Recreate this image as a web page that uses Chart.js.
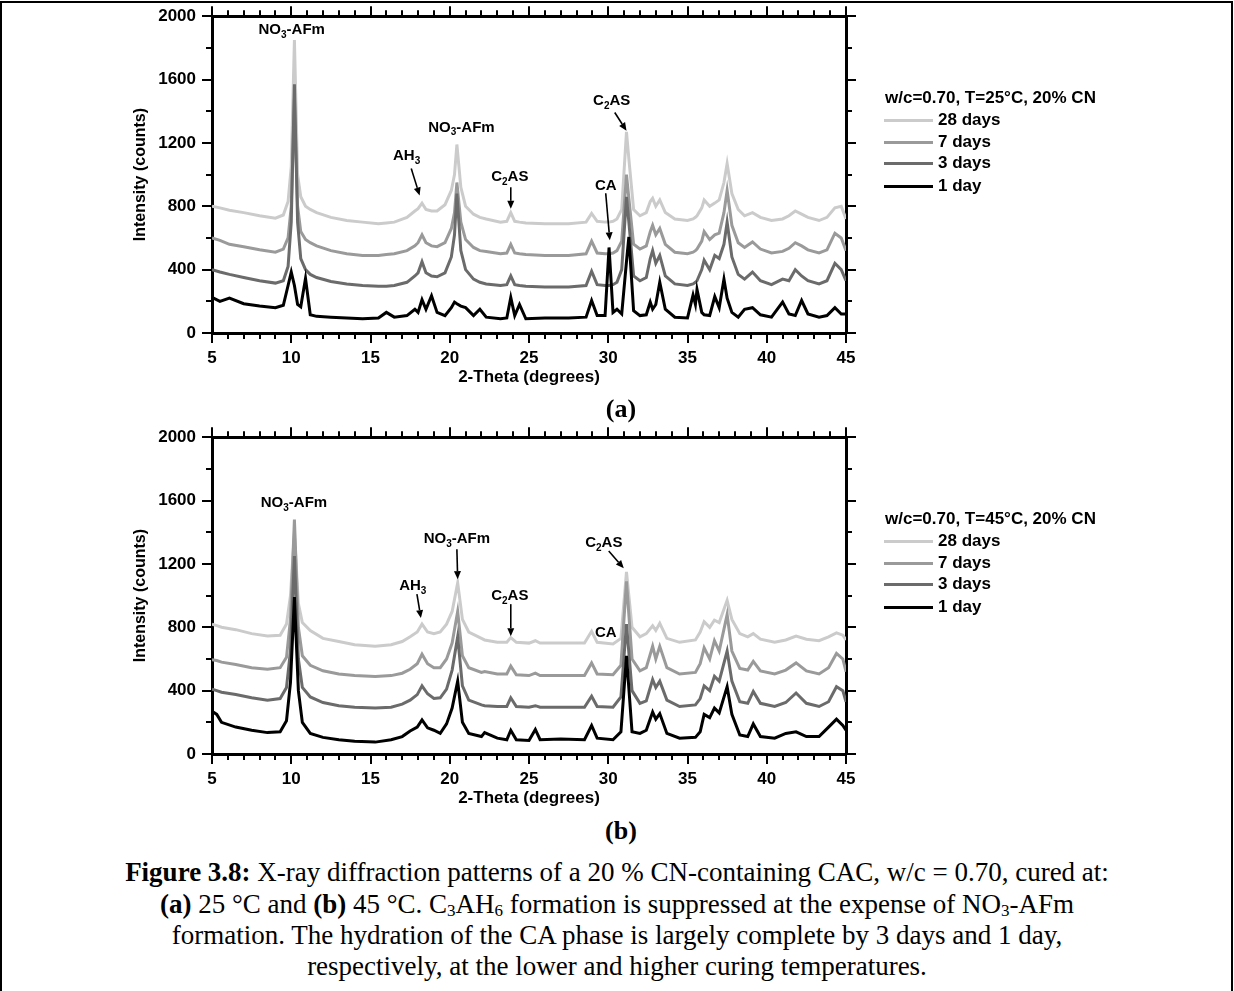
<!DOCTYPE html>
<html>
<head>
<meta charset="utf-8">
<script src="https://cdn.jsdelivr.net/npm/chart.js@4.4.0/dist/chart.umd.min.js"></script>
<style>
  body { margin: 0; background: #fff; }
  #page { position: relative; width: 1234px; height: 991px; overflow: hidden; font-family: "Liberation Sans", Arial, sans-serif; }
  #frame { position: absolute; left: 0; top: 1px; width: 1229px; height: 1100px; border: 2px solid #000; }
  canvas { position: absolute; left: 0; }
  .leg { position: absolute; font-weight: bold; font-size: 17px; line-height: 20px; white-space: nowrap; }
  .swatch { position: absolute; left: 884px; width: 49px; height: 3px; }
  .panel { position: absolute; width: 80px; text-align: center; font-family: "Liberation Serif", "Times New Roman", serif; font-weight: bold; font-size: 26px; line-height: 28px; }
  .cap { position: absolute; left: 0; width: 1234px; text-align: center; font-family: "Liberation Serif", "Times New Roman", serif; font-size: 27px; line-height: 30px; white-space: nowrap; }
  .cap sub { font-size: 17px; vertical-align: -3px; line-height: 0; }
</style>
</head>
<body>
<div id="page">
  <div id="frame"></div>
  <canvas id="chartA" width="1234" height="390" style="top:0px"></canvas>
  <canvas id="chartB" width="1234" height="390" style="top:421px"></canvas>
  <div id="legA"></div>
  <div id="legB"></div>
  <div class="panel" style="left:581px; top:395px">(a)</div>
  <div class="panel" style="left:581px; top:817px">(b)</div>
  <div class="cap" style="top:857px"><b>Figure 3.8:</b> X-ray diffraction patterns of a 20 % CN-containing CAC, w/c = 0.70, cured at:</div>
  <div class="cap" style="top:889px"><b>(a)</b> 25 °C and <b>(b)</b> 45 °C. C<sub>3</sub>AH<sub>6</sub> formation is suppressed at the expense of NO<sub>3</sub>-AFm</div>
  <div class="cap" style="top:920px">formation. The hydration of the CA phase is largely complete by 3 days and 1 day,</div>
  <div class="cap" style="top:951px">respectively, at the lower and higher curing temperatures.</div>
</div>
<script>
// series names and colours (legend order)
const seriesNames = ['28 days', '7 days', '3 days', '1 day'];
const seriesColors = ['#cbcbcb', '#9a9a9a', '#6b6b6b', '#000000'];

// (a) T = 25 °C
const thetaA = [5, 5.5, 6.1, 7, 8, 9, 9.5, 9.8, 10.0, 10.2,
  10.4, 10.6, 10.9, 11.2, 11.6, 12.5, 13.5, 14.5, 15.5, 16.0,
  16.5, 17.3, 17.8, 18.0, 18.25, 18.5, 18.85, 19.2, 19.7, 20.1,
  20.3, 20.45, 20.7, 21.0, 21.5, 21.9, 22.3, 23.2, 23.6, 23.85,
  24.1, 24.4, 24.8, 26, 27.5, 28.6, 28.95, 29.3, 29.8, 30.05,
  30.3, 30.55, 30.85, 31.15, 31.3, 31.6, 32.0, 32.4, 32.65, 32.8,
  33.0, 33.25, 33.6, 34.2, 35.0, 35.35, 35.5, 35.6, 35.9, 36.05,
  36.4, 36.72, 37.0, 37.3, 37.5, 37.8, 38.2, 38.6, 39.1, 39.6,
  40.3, 41.0, 41.4, 41.8, 42.2, 42.6, 43.3, 43.8, 44.3, 44.7,
  45];
const a28 = [800, 790, 775, 760, 740, 725, 745, 830, 1050, 1850,
  1000, 860, 800, 780, 760, 730, 710, 700, 690, 695,
  700, 730, 770, 785, 820, 780, 770, 770, 810, 900,
  1000, 1190, 920, 800, 750, 730, 720, 700, 705, 760,
  705, 700, 695, 690, 690, 700, 755, 705, 700, 700,
  705, 720, 780, 1270, 1100, 780, 740, 760, 830, 850,
  800, 840, 760, 720, 710, 720, 730, 740, 790, 840,
  800, 820, 840, 950, 1070, 880, 780, 740, 760, 730,
  710, 720, 740, 770, 750, 730, 710, 730, 790, 800,
  720];
const a7 = [600, 585, 560, 545, 525, 510, 530, 600, 800, 1480,
  800, 640, 590, 570, 550, 520, 500, 490, 490, 495,
  500, 520, 550, 570, 620, 570, 550, 545, 570, 660,
  760, 950, 700, 590, 540, 520, 515, 500, 505, 560,
  505, 500, 495, 490, 490, 500, 580, 505, 500, 500,
  505, 520, 580, 1000, 850, 560, 530, 550, 640, 680,
  620, 660, 560, 510, 500, 510, 520, 530, 580, 640,
  590, 620, 630, 760, 900, 680, 570, 540, 575, 530,
  505, 515, 535, 570, 550, 525, 505, 525, 630, 600,
  520];
const a3 = [400, 385, 370, 350, 330, 315, 330, 420, 700, 1570,
  700, 470, 400, 370, 350, 325, 310, 300, 295, 295,
  300, 320, 360, 380, 450, 380, 360, 355, 380, 480,
  620, 880, 520, 400, 340, 320, 310, 300, 305, 360,
  305, 300, 295, 290, 290, 300, 390, 305, 300, 300,
  305, 320, 400, 860, 700, 360, 330, 350, 470, 520,
  440, 490, 360, 310, 300, 310, 320, 330, 400, 460,
  400, 490, 470, 560, 700, 480, 370, 340, 385, 330,
  305, 340, 330, 400, 360, 330, 310, 330, 440, 400,
  330];
const a1 = [225, 200, 220, 185, 170, 160, 175, 300, 385, 300,
  180, 165, 345, 115, 105, 100, 95, 90, 95, 130,
  100, 110, 150, 130, 210, 150, 235, 130, 110, 160,
  195, 185, 170, 160, 110, 150, 100, 90, 95, 225,
  110, 180, 90, 95, 95, 100, 205, 110, 110, 540,
  130, 150, 120, 450, 606, 140, 110, 115, 195, 150,
  180, 320, 150, 100, 95, 240, 180, 275, 130, 115,
  110, 230, 160, 340, 220, 130, 100, 150, 160, 115,
  100, 195, 120, 110, 205, 120, 100, 110, 160, 120,
  120];

// (b) T = 45 °C
const thetaB = [5, 5.3, 5.6, 6.5, 7.5, 8.5, 9.3, 9.7, 9.95, 10.2,
  10.45, 10.7, 11.2, 12, 13, 14, 15.3, 16.3, 17.0, 17.5,
  17.95, 18.25, 18.6, 19.0, 19.4, 19.8, 20.15, 20.5, 20.8, 21.2,
  22.0, 22.2, 23.0, 23.6, 23.85, 24.2, 25.0, 25.4, 25.7, 27.0,
  28.5, 28.95, 29.3, 30.3, 30.8, 31.15, 31.5, 32.0, 32.4, 32.8,
  33.0, 33.25, 33.7, 34.5, 35.5, 35.8, 36.05, 36.4, 36.7, 37.0,
  37.5, 37.8, 38.3, 38.8, 39.15, 39.6, 40.5, 41.2, 41.85, 42.5,
  43.3, 43.9, 44.4, 44.8, 45];
const b28 = [820, 810, 800, 785, 760, 745, 750, 820, 1000, 1400,
  950, 830, 780, 730, 710, 690, 680, 690, 710, 740,
  770, 820, 770, 760, 770, 820, 900, 1080, 850, 770,
  730, 720, 705, 705, 735, 705, 700, 715, 700, 700,
  700, 775, 705, 695, 730, 1150, 800, 740, 760, 810,
  780, 825, 730, 705, 720, 770, 835, 800, 845, 830,
  970, 850, 760, 740, 760, 725, 705, 720, 745, 725,
  715, 740, 765, 750, 720];
const b7 = [595, 590, 580, 565, 545, 535, 545, 610, 850, 1480,
  800, 620, 560, 525, 505, 495, 490, 495, 510, 535,
  570, 630, 570, 545, 545, 600, 700, 900, 620, 545,
  515, 520, 505, 505, 555, 500, 495, 510, 495, 495,
  495, 575, 505, 500, 560, 1090, 600, 525, 545, 680,
  600, 680, 545, 505, 515, 570, 670, 600, 715, 650,
  880, 650, 540, 530, 585, 525, 505, 530, 575, 525,
  505, 545, 635, 600, 520];
const b3 = [410, 400, 390, 375, 355, 340, 350, 420, 650, 1250,
  600, 420, 360, 325, 305, 295, 290, 295, 315, 340,
  375, 430, 380, 350, 355, 410, 530, 740, 430, 340,
  310, 305, 300, 300, 355, 300, 295, 305, 295, 295,
  295, 365, 300, 295, 360, 820, 400, 320, 335, 470,
  420, 460, 340, 300, 310, 350, 430, 400, 490, 460,
  650, 460, 330, 320, 395, 320, 300, 325, 385, 320,
  300, 330, 425, 400, 330];
const b1 = [270, 250, 200, 170, 150, 135, 140, 210, 450, 990,
  400, 200, 130, 105, 90, 80, 75, 90, 110, 145,
  170, 215, 165, 150, 130, 190, 290, 460, 200, 130,
  110, 135, 100, 90, 150, 90, 85, 155, 90, 95,
  90, 180, 100, 90, 140, 620, 140, 130, 150, 265,
  220, 255, 130, 100, 105, 140, 250, 230, 290, 260,
  425, 250, 120, 110, 190, 110, 100, 130, 140, 110,
  110, 170, 220, 180, 150];

// axis ticks
const xMajor = [5, 10, 15, 20, 25, 30, 35, 40, 45];
const yMajor = [0, 400, 800, 1200, 1600, 2000];
const xMinor = [6, 7, 8, 9, 11, 12, 13, 14, 16, 17, 18, 19, 21, 22, 23, 24, 26, 27, 28, 29,
  31, 32, 33, 34, 36, 37, 38, 39, 41, 42, 43, 44];
const yMinor = [200, 600, 1000, 1400, 1800];

// peak labels: text ({} = subscript), label position, optional arrow [x1, y1, x2, y2] in data units
const notesA = [
  { text: 'NO{3}-AFm', x: 10.03, y: 1912 },
  { text: 'AH{3}', x: 17.28, y: 1119, arrow: [17.57, 1038, 18.1, 868] },
  { text: 'NO{3}-AFm', x: 20.74, y: 1297 },
  { text: 'C{2}AS', x: 23.79, y: 983, arrow: [23.85, 920, 23.85, 784] },
  { text: 'CA', x: 29.84, y: 931, arrow: [29.84, 882, 30.1, 585] },
  { text: 'C{2}AS', x: 30.22, y: 1465, arrow: [30.41, 1392, 31.15, 1277] }
];
const notesB = [
  { text: 'NO{3}-AFm', x: 10.17, y: 1585 },
  { text: 'AH{3}', x: 17.67, y: 1060, arrow: [17.93, 1009, 18.18, 858] },
  { text: 'NO{3}-AFm', x: 20.45, y: 1356, arrow: [20.45, 1293, 20.5, 1104] },
  { text: 'C{2}AS', x: 23.79, y: 997, arrow: [23.85, 946, 23.85, 744] },
  { text: 'CA', x: 29.84, y: 763 },
  { text: 'C{2}AS', x: 29.72, y: 1331, arrow: [30.03, 1281, 30.98, 1173] }
];

const FONT = '"Liberation Sans", Arial, sans-serif';
Chart.defaults.font.family = FONT;
Chart.defaults.font.weight = 'bold';
Chart.defaults.color = '#000';

function drawChem(ctx, text, cx, cy) {
  const parts = text.split(/[{}]/);
  const fonts = ['bold 15px ' + FONT, 'bold 10px ' + FONT];
  let w = 0;
  parts.forEach((p, i) => { ctx.font = fonts[i % 2]; w += ctx.measureText(p).width; });
  let px = cx - w / 2;
  ctx.textAlign = 'left';
  ctx.textBaseline = 'middle';
  ctx.fillStyle = '#000';
  parts.forEach((p, i) => {
    ctx.font = fonts[i % 2];
    ctx.fillText(p, px, cy + (i % 2 ? 5 : 0));
    px += ctx.measureText(p).width;
  });
}

function drawArrow(ctx, x1, y1, x2, y2) {
  const ang = Math.atan2(y2 - y1, x2 - x1);
  const head = 8;
  ctx.strokeStyle = '#000';
  ctx.fillStyle = '#000';
  ctx.lineWidth = 1.6;
  ctx.beginPath();
  ctx.moveTo(x1, y1);
  ctx.lineTo(x2 - head * Math.cos(ang), y2 - head * Math.sin(ang));
  ctx.stroke();
  ctx.beginPath();
  ctx.moveTo(x2, y2);
  ctx.lineTo(x2 - head * Math.cos(ang) + 3.5 * Math.sin(ang), y2 - head * Math.sin(ang) - 3.5 * Math.cos(ang));
  ctx.lineTo(x2 - head * Math.cos(ang) - 3.5 * Math.sin(ang), y2 - head * Math.sin(ang) + 3.5 * Math.cos(ang));
  ctx.closePath();
  ctx.fill();
}

function makeChart(canvasId, theta, values, notes) {
  // minor ticks on all four sides, plus peak labels
  const extras = {
    id: 'extras',
    afterDraw(chart) {
      const { ctx, chartArea: a, scales } = chart;
      ctx.save();
      ctx.strokeStyle = '#000';
      ctx.lineWidth = 2;
      ctx.beginPath();
      xMinor.forEach(v => {
        const px = Math.round(scales.x.getPixelForValue(v));
        ctx.moveTo(px, a.bottom); ctx.lineTo(px, a.bottom + 6);
        ctx.moveTo(px, a.top); ctx.lineTo(px, a.top - 6);
      });
      yMinor.forEach(v => {
        const py = Math.round(scales.y.getPixelForValue(v));
        ctx.moveTo(a.left, py); ctx.lineTo(a.left - 6, py);
        ctx.moveTo(a.right, py); ctx.lineTo(a.right + 6, py);
      });
      ctx.stroke();
      notes.forEach(n => {
        drawChem(ctx, n.text, scales.x.getPixelForValue(n.x), scales.y.getPixelForValue(n.y));
        if (n.arrow) {
          drawArrow(ctx,
            scales.x.getPixelForValue(n.arrow[0]), scales.y.getPixelForValue(n.arrow[1]),
            scales.x.getPixelForValue(n.arrow[2]), scales.y.getPixelForValue(n.arrow[3]));
        }
      });
      ctx.restore();
    }
  };

  const axisGrid = { drawOnChartArea: false, drawTicks: true, tickLength: 10, lineWidth: 2, color: '#000' };
  const axisBorder = { display: true, width: 3, color: '#000' };
  const tickFont = { family: FONT, size: 17, weight: 'bold' };
  const plain = v => String(v);

  // darkest series drawn on top: dataset 0 is drawn last
  const datasets = values.map((vals, i) => ({
    label: seriesNames[i],
    data: theta.map((t, j) => ({ x: t, y: vals[j] })),
    borderColor: seriesColors[i],
    borderWidth: 3,
    pointRadius: 0,
    tension: 0,
    fill: false
  })).reverse();

  return new Chart(document.getElementById(canvasId), {
    type: 'line',
    data: { datasets },
    options: {
      responsive: false,
      animation: false,
      events: [],
      layout: { padding: { left: 0, top: 3, right: 376, bottom: 2 } },
      plugins: { legend: { display: false }, tooltip: { enabled: false } },
      scales: {
        x: {
          type: 'linear', position: 'bottom', min: 5, max: 45,
          afterBuildTicks: s => { s.ticks = xMajor.map(v => ({ value: v })); },
          ticks: { font: tickFont, padding: 5, maxRotation: 0, callback: plain },
          grid: axisGrid, border: axisBorder,
          title: { display: true, text: '2-Theta (degrees)', font: { family: FONT, size: 17, weight: 'bold' }, padding: { top: 0, bottom: 0 } },
          afterFit: s => { s.height = 55; }
        },
        x2: {
          type: 'linear', position: 'top', min: 5, max: 45,
          afterBuildTicks: s => { s.ticks = xMajor.map(v => ({ value: v })); },
          ticks: { display: false },
          grid: axisGrid, border: axisBorder,
          afterFit: s => { s.height = 12; }
        },
        y: {
          type: 'linear', position: 'left', min: 0, max: 2000,
          afterBuildTicks: s => { s.ticks = yMajor.map(v => ({ value: v })); },
          ticks: { font: tickFont, padding: 6, callback: plain },
          grid: axisGrid, border: axisBorder,
          title: { display: true, text: 'Intensity (counts)', font: { family: FONT, size: 16, weight: 'bold' }, padding: { top: 131, bottom: 0 } },
          afterFit: s => { s.width = 212; }
        },
        y2: {
          type: 'linear', position: 'right', min: 0, max: 2000,
          afterBuildTicks: s => { s.ticks = yMajor.map(v => ({ value: v })); },
          ticks: { display: false },
          grid: axisGrid, border: axisBorder,
          afterFit: s => { s.width = 12; }
        }
      }
    },
    plugins: [extras]
  });
}

function makeLegend(id, title, offsetY) {
  const box = document.getElementById(id);
  let html = '<div class="leg" style="left:885px; top:' + (offsetY + 88) + 'px">' + title + '</div>';
  const rows = [120, 142, 163, 186];
  seriesNames.forEach((name, i) => {
    const cy = offsetY + rows[i];
    html += '<div class="swatch" style="top:' + (cy - 1) + 'px; background:' + seriesColors[i] + '"></div>';
    html += '<div class="leg" style="left:938px; top:' + (cy - 10) + 'px">' + name + '</div>';
  });
  box.innerHTML = html;
}

makeChart('chartA', thetaA, [a28, a7, a3, a1], notesA);
makeChart('chartB', thetaB, [b28, b7, b3, b1], notesB);
makeLegend('legA', 'w/c=0.70, T=25°C, 20% CN', 0);
makeLegend('legB', 'w/c=0.70, T=45°C, 20% CN', 421);
</script>
</body>
</html>
